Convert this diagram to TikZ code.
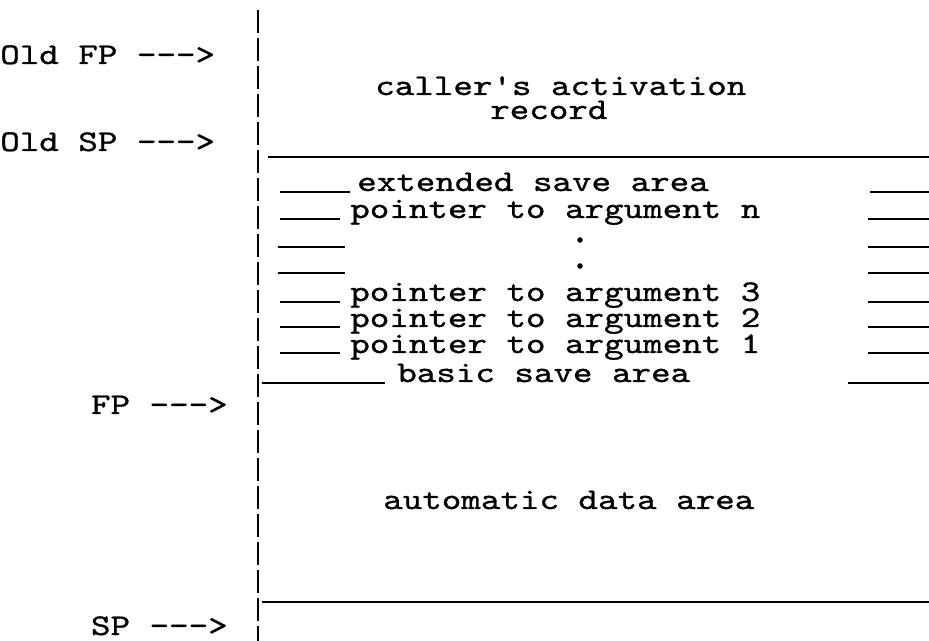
\documentclass[tikz,border=0pt]{standalone}
\usepackage{fontspec}
\usepackage{tikz}

\newfontfamily\typer{lmmono10-regular.otf}[FakeStretch=1.24, FakeBold=1]
\newcommand{\ptrarrow}{-\kern0pt-\kern0pt-\kern0pt>}

\begin{document}
\begin{tikzpicture}[x=0.75pt, y=-0.75pt,
    every node/.style={font=\typer\fontsize{22.5}{26}\selectfont, inner sep=0pt, anchor=base west},
    rule/.style={line width=1.6pt},
    bar/.style={line width=2.2pt, dash pattern=on 17pt off 4pt}]
  \useasboundingbox (0,0) rectangle (929,641);

  % Stack edge
  \draw[bar] (258,10) -- (258,641);

  % Pointer labels
  \node (oldfp) at (0,64) {Old FP \ptrarrow};
  \node (oldsp) at (0,151) {Old SP \ptrarrow};
  \node[anchor=base east] (fp) at (228,414) {FP \ptrarrow};
  \node[anchor=base east] (sp) at (228,635) {SP \ptrarrow};

  % Caller's frame
  \node (caller) at (375,95) {caller's activation};
  \node (record) at (490,119) {record};
  \draw[rule] (268,157) -- (929,157);

  % Save areas and argument pointers
  \node (ext) at (357,191) {extended save area};
  \draw[rule] (280,192) -- (350,192);
  \draw[rule] (870,192) -- (929,192);

  \node (argn) at (350,218) {pointer to argument n};
  \draw[rule] (280,219) -- (340,219);
  \draw[rule] (868,219) -- (929,219);

  \fill (580,240) circle (2.8);
  \draw[rule] (278,247) -- (345,247);
  \draw[rule] (868,247) -- (929,247);

  \fill (580,266) circle (2.8);
  \draw[rule] (278,273) -- (345,273);
  \draw[rule] (868,273) -- (929,273);

  \node (arg3) at (350,301) {pointer to argument 3};
  \draw[rule] (280,302) -- (340,302);
  \draw[rule] (868,302) -- (929,302);

  \node (arg2) at (350,327) {pointer to argument 2};
  \draw[rule] (280,327) -- (340,327);
  \draw[rule] (868,327) -- (929,327);

  \node (arg1) at (350,353) {pointer to argument 1};
  \draw[rule] (280,353) -- (340,353);
  \draw[rule] (868,353) -- (929,353);

  \node (basic) at (397,382) {basic save area};
  \draw[rule] (262,383) -- (385,383);
  \draw[rule] (848,383) -- (929,383);

  % Local frame
  \node (auto) at (383,509) {automatic data area};
  \draw[rule] (262,602) -- (929,602);
\end{tikzpicture}
\end{document}
